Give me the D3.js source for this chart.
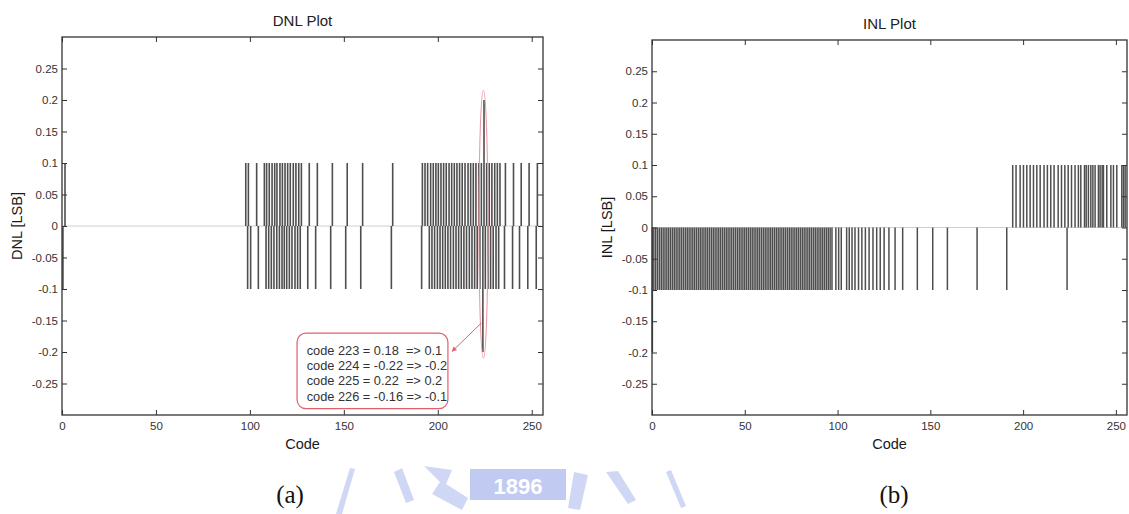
<!DOCTYPE html>
<html><head><meta charset="utf-8">
<script src="https://cdn.jsdelivr.net/npm/d3@7"></script>
<style>body{margin:0;background:#fff}svg{display:block}</style>
</head><body>
<svg id="chart" width="1129" height="514"></svg>
<script>
// ---------------- data ----------------
const xTicks = [0, 50, 100, 150, 200, 250];
const yTicks = [-0.25, -0.2, -0.15, -0.1, -0.05, 0, 0.05, 0.1, 0.15, 0.2, 0.25];
const codeDomain = [0, 256];
const valueDomain = [-0.3, 0.3];

// DNL plot: codes at which DNL = +0.1 / -0.1, plus the outlier pair
const dnlUpCodes = [1.6, 97.8, 99.2, 103.6, 107.7, 108.9, 110.3, 111.8, 113.2, 114.4, 116.0, 117.3, 118.7, 120.1, 121.5, 123.1, 124.5, 126.0, 127.4, 131.6, 135.9, 143.9, 151.8, 160.0, 176.0, 191.8, 193.2, 194.6, 196.2, 197.6, 199.0, 200.3, 201.7, 203.1, 204.5, 206.0, 207.4, 208.8, 210.2, 211.6, 213.0, 214.5, 216.1, 217.5, 218.9, 220.3, 221.8, 223.2, 226.0, 227.4, 228.8, 230.3, 231.7, 233.1, 236.0, 240.3, 244.4, 248.6, 253.0];
const dnlDownCodes = [0.5, 98.8, 100.4, 104.5, 108.6, 110.0, 111.4, 112.8, 114.3, 115.7, 117.1, 118.3, 119.6, 121.0, 122.4, 124.0, 125.4, 126.8, 130.8, 135.0, 143.0, 151.0, 159.0, 175.3, 191.4, 195.5, 196.9, 198.3, 199.8, 201.2, 202.6, 204.0, 205.4, 206.8, 208.3, 209.7, 211.1, 212.5, 213.9, 215.3, 216.8, 218.2, 219.6, 221.0, 222.4, 225.3, 226.7, 228.1, 229.5, 231.0, 232.4, 235.5, 239.8, 243.5, 247.9, 252.4];
const dnlPeakCodes = [224.0, 224.6];
const dnlPeakValues = [-0.2, 0.2];

// INL plot: codes at which INL = -0.1 / +0.1, plus the start point
const inlDownCodes = [1, 2, 3, 4, 5, 6, 7, 8, 9, 10, 11, 12, 13, 14, 15, 16, 17, 18, 19, 20, 21, 22, 23, 24, 25, 26, 27, 28, 29, 30, 31, 32, 33, 34, 35, 36, 37, 38, 39, 40, 41, 42, 43, 44, 45, 46, 47, 48, 49, 50, 51, 52, 53, 54, 55, 56, 57, 58, 59, 60, 61, 62, 63, 64, 65, 66, 67, 68, 69, 70, 71, 72, 73, 74, 75, 76, 77, 78, 79, 80, 81, 82, 83, 84, 85, 86, 87, 88, 89, 90, 91, 92, 93, 94, 95, 96, 97, 99.1, 100.6, 102.0, 104.9, 106.3, 107.8, 109.4, 111.3, 113.1, 115.0, 117.0, 119.1, 121.1, 123.0, 125.1, 127.7, 131.0, 135.1, 143.0, 151.3, 159.2, 175.2, 191.2, 223.7];
const inlUpCodes = [194.4, 196.2, 198.4, 200.2, 202.0, 203.8, 205.6, 207.4, 209.2, 211.3, 213.1, 214.9, 216.7, 218.9, 220.7, 222.5, 224.3, 226.1, 228.0, 229.8, 231.1, 233.1, 234.0, 235.2, 236.5, 237.6, 238.8, 240.6, 241.5, 242.6, 243.3, 245.1, 247.3, 248.7, 250.5, 253.2, 254.1, 255.0];
const inlPeakCodes = [0.2];
const inlPeakValues = [-0.2];

const stepValue = 0.1;
const annotationLines = [
  "code 223 = 0.18  => 0.1",
  "code 224 = -0.22 => -0.2",
  "code 225 = 0.22  => 0.2",
  "code 226 = -0.16 => -0.1"
];
const titles = ["DNL Plot", "INL Plot"];
const yLabels = ["DNL [LSB]", "INL [LSB]"];
const xLabel = "Code";
const captions = ["(a)", "(b)"];

// ---------------- drawing ----------------
const svg = d3.select("#chart");
const FONT = "'Liberation Sans', Arial, sans-serif";
const fmt = v => (v === 0 ? "0" : String(+v.toFixed(2)));

function series(up, down, peakCodes, peakValues) {
  return [
    ...up.map(c => ({code: c, value: stepValue})),
    ...down.map(c => ({code: c, value: -stepValue})),
    ...peakCodes.map((c, i) => ({code: c, value: peakValues[i]}))
  ];
}

function drawPanel(box, data, title, ylab, stemW) {
  const x = d3.scaleLinear().domain(codeDomain).range([box.left, box.right]);
  const y = d3.scaleLinear().domain(valueDomain).range([box.bottom, box.top]);
  const g = svg.append("g");

  // zero line of the trace
  g.append("line")
    .attr("x1", x(0)).attr("x2", x(255))
    .attr("y1", y(0)).attr("y2", y(0))
    .attr("stroke", "#d0d0d0").attr("stroke-width", 1);

  // vertical excursions of the trace
  g.selectAll("line.stem").data(data).join("line")
    .attr("class", "stem")
    .attr("x1", d => x(d.code)).attr("x2", d => x(d.code))
    .attr("y1", y(0)).attr("y2", d => y(d.value))
    .attr("stroke", "#4e4e4e").attr("stroke-width", stemW);

  // axes, ticks inside (MATLAB style)
  const styleAxis = sel => {
    sel.select(".domain").remove();
    sel.selectAll("line").attr("stroke", "#333");
    sel.selectAll("text").attr("font-family", FONT).attr("font-size", 11.5).attr("fill", "#333");
  };
  g.append("g").attr("transform", `translate(0,${box.bottom})`)
    .call(d3.axisBottom(x).tickValues(xTicks).tickSize(-5).tickPadding(7).tickFormat(d3.format("d")))
    .call(styleAxis);
  g.append("g").attr("transform", `translate(0,${box.top})`)
    .call(d3.axisTop(x).tickValues(xTicks).tickSize(-5).tickFormat(""))
    .call(styleAxis);
  g.append("g").attr("transform", `translate(${box.left},0)`)
    .call(d3.axisLeft(y).tickValues(yTicks).tickSize(-5).tickPadding(4).tickFormat(fmt))
    .call(styleAxis);
  g.append("g").attr("transform", `translate(${box.right},0)`)
    .call(d3.axisRight(y).tickValues(yTicks).tickSize(-5).tickFormat(""))
    .call(styleAxis);

  g.append("rect")
    .attr("x", box.left).attr("y", box.top)
    .attr("width", box.right - box.left).attr("height", box.bottom - box.top)
    .attr("fill", "none").attr("stroke", "#333").attr("stroke-width", 1.3);

  const cx = (box.left + box.right) / 2;
  g.append("text").attr("x", cx).attr("y", box.top - 11)
    .attr("text-anchor", "middle").attr("font-family", FONT).attr("font-size", 15)
    .attr("fill", "#222").text(title);
  g.append("text").attr("x", cx).attr("y", box.bottom + 34)
    .attr("text-anchor", "middle").attr("font-family", FONT).attr("font-size", 14.5)
    .attr("fill", "#1a1a1a").text(xLabel);
  g.append("text")
    .attr("transform", `translate(${box.left - 40},${(box.top + box.bottom) / 2}) rotate(-90)`)
    .attr("text-anchor", "middle").attr("font-family", FONT).attr("font-size", 14.5)
    .attr("fill", "#1a1a1a").text(ylab);
  return {x, y, g};
}

const dnl = drawPanel({left: 62, right: 543, top: 37, bottom: 415},
  series(dnlUpCodes, dnlDownCodes, dnlPeakCodes, dnlPeakValues), titles[0], yLabels[0], 1.6);
const inl = drawPanel({left: 652, right: 1127, top: 40, bottom: 415},
  series(inlUpCodes, inlDownCodes, inlPeakCodes, inlPeakValues), titles[1], yLabels[1], 1.5);

// ---------------- annotation on the DNL plot ----------------
{
  const {x, y, g} = dnl;
  const red = "#e0606c";
  const top = y(0.215), bot = y(-0.21);
  g.append("ellipse")
    .attr("cx", x(224.3)).attr("cy", (top + bot) / 2)
    .attr("rx", 4.5).attr("ry", (bot - top) / 2)
    .attr("fill", "none").attr("stroke", "#f09aa4").attr("stroke-width", 1.1);
  g.append("rect")
    .attr("x", x(125.1)).attr("y", y(-0.170))
    .attr("width", x(205.4) - x(125.1)).attr("height", y(-0.290) - y(-0.170))
    .attr("rx", 9).attr("fill", "none").attr("stroke", red).attr("stroke-width", 1.2);
  const lineVals = [-0.204, -0.228, -0.252, -0.277];
  g.selectAll("text.ann").data(annotationLines).join("text")
    .attr("class", "ann")
    .attr("x", x(130.2)).attr("y", (d, i) => y(lineVals[i]))
    .attr("font-family", FONT).attr("font-size", 12.8).attr("fill", "#333")
    .style("white-space", "pre").attr("xml:space", "preserve")
    .text(d => d);
  svg.append("defs").append("marker")
    .attr("id", "arr").attr("viewBox", "0 0 10 10").attr("refX", 9).attr("refY", 5)
    .attr("markerWidth", 5).attr("markerHeight", 5).attr("orient", "auto")
    .append("path").attr("d", "M0,0L10,5L0,10z").attr("fill", red);
  g.append("line")
    .attr("x1", x(223.2)).attr("y1", y(-0.154))
    .attr("x2", x(207.6)).attr("y2", y(-0.199))
    .attr("stroke", red).attr("stroke-width", 1).attr("marker-end", "url(#arr)");
}

// ---------------- captions ----------------
svg.selectAll("text.cap").data(captions).join("text")
  .attr("class", "cap")
  .attr("x", (d, i) => [290, 894][i]).attr("y", 503)
  .attr("text-anchor", "middle")
  .attr("font-family", "'Liberation Serif', 'Times New Roman', serif")
  .attr("font-size", 25).attr("fill", "#111").text(d => d);

// ---------------- faint watermark ----------------
{
  const w = svg.append("g").attr("opacity", 0.55);
  const blue = "#a9b8ee";
  w.append("path").attr("d", "M336,514 L350,468 L355,469 L342,514 Z").attr("fill", blue);
  w.append("path").attr("d", "M394,472 L402,468 L414,500 L406,503 Z").attr("fill", blue);
  w.append("path").attr("d", "M424,466 L452,470 L446,484 L468,498 L462,510 L432,494 L440,482 Z").attr("fill", blue);
  w.append("rect").attr("x", 470).attr("y", 469).attr("width", 96).attr("height", 31).attr("fill", "#8fa2e6");
  w.append("text").attr("x", 518).attr("y", 494).attr("text-anchor", "middle")
    .attr("font-family", FONT).attr("font-weight", "bold").attr("font-size", 22)
    .attr("fill", "#fff").text("1896");
  w.append("path").attr("d", "M574,472 L588,475 L580,510 L568,508 Z").attr("fill", blue);
  w.append("path").attr("d", "M606,472 L618,471 L636,500 L628,504 Z").attr("fill", blue);
  w.append("path").attr("d", "M666,472 L671,470 L686,506 L681,508 Z").attr("fill", blue);
}
</script>
</body></html>
